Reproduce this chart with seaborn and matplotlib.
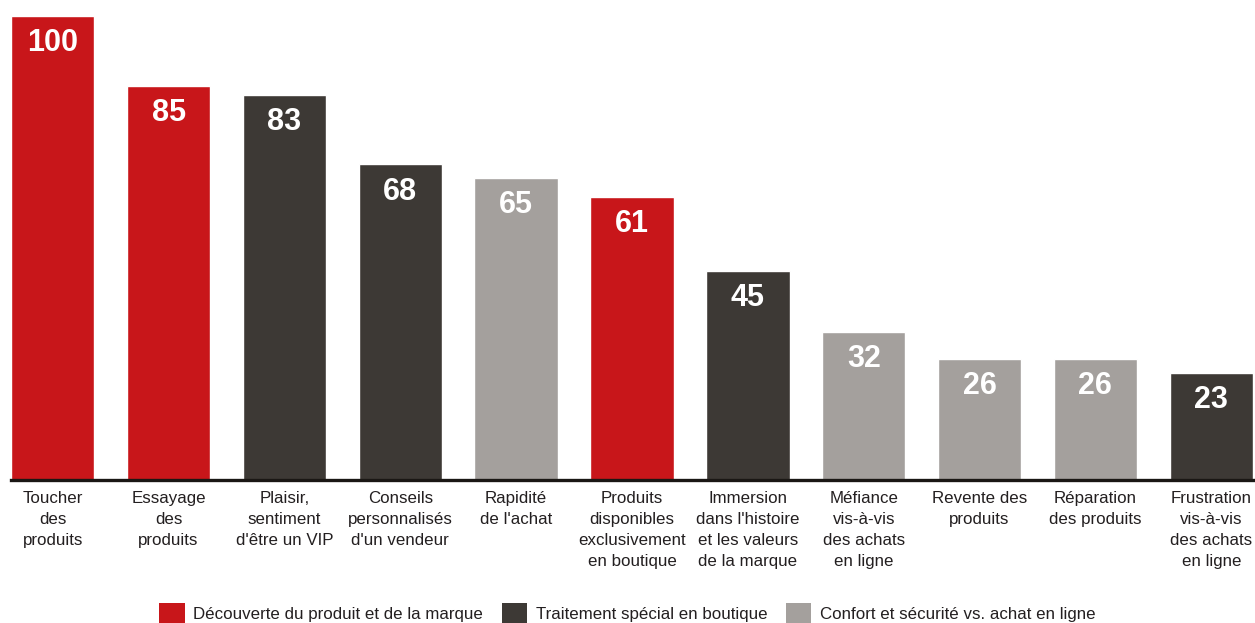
import matplotlib
matplotlib.use("Agg")
import matplotlib.pyplot as plt
from matplotlib.patches import Patch
import seaborn as sns
import pandas as pd

categories = [
    "Toucher\ndes\nproduits",
    "Essayage\ndes\nproduits",
    "Plaisir,\nsentiment\nd'être un VIP",
    "Conseils\npersonnalisés\nd'un vendeur",
    "Rapidité\nde l'achat",
    "Produits\ndisponibles\nexclusivement\nen boutique",
    "Immersion\ndans l'histoire\net les valeurs\nde la marque",
    "Méfiance\nvis-à-vis\ndes achats\nen ligne",
    "Revente des\nproduits",
    "Réparation\ndes produits",
    "Frustration\nvis-à-vis\ndes achats\nen ligne",
]
values = [100, 85, 83, 68, 65, 61, 45, 32, 26, 26, 23]
group_names = [
    "Découverte du produit et de la marque",
    "Traitement spécial en boutique",
    "Confort et sécurité vs. achat en ligne",
]
groups = [0, 0, 1, 1, 2, 0, 1, 2, 2, 2, 1]
group_colors = ["#C8161A", "#3D3935", "#A4A09D"]

sns.set_theme(style="white")
plt.rcParams["font.family"] = ["Liberation Sans", "DejaVu Sans"]

df = pd.DataFrame({
    "cat": categories,
    "val": values,
    "grp": [group_names[g] for g in groups],
})
palette = dict(zip(group_names, group_colors))

fig = plt.figure(figsize=(12.55, 6.23), dpi=100)
ax = fig.add_axes([11 / 1255, 1 - 480 / 623, 1242 / 1255, (480 - 16) / 623])

sns.barplot(data=df, x="cat", y="val", hue="grp", hue_order=group_names,
            order=categories, palette=palette, dodge=False, width=0.72,
            saturation=1, legend=False, ax=ax)

ax.set_xlim(-0.36, len(categories) - 1 + 0.36)
ax.set_ylim(0, 100)
ax.set_xlabel("")
ax.set_ylabel("")
ax.set_yticks([])
for side in ["top", "right", "left"]:
    ax.spines[side].set_visible(False)
ax.spines["bottom"].set_color("#1a1714")
ax.spines["bottom"].set_linewidth(2.4)
ax.tick_params(axis="x", length=0, pad=8, labelsize=12.2, labelcolor="#231f20")
for lbl in ax.get_xticklabels():
    lbl.set_linespacing(1.5)

for i, v in enumerate(values):
    ax.annotate(f"{v}", xy=(i, v), xytext=(0, -19.5), textcoords="offset points",
                ha="center", va="center", color="white", fontsize=22,
                fontweight="bold")

handles = [Patch(facecolor=c, edgecolor="none") for c in group_colors]
fig.legend(handles, group_names, loc="lower center", bbox_to_anchor=(0.5, -0.025),
           ncol=3, frameon=False, fontsize=12.2, handlelength=1.5,
           handleheight=1.5, handletextpad=0.5, columnspacing=1.1,
           labelcolor="#231f20")

fig.savefig("out.png", dpi=100)
